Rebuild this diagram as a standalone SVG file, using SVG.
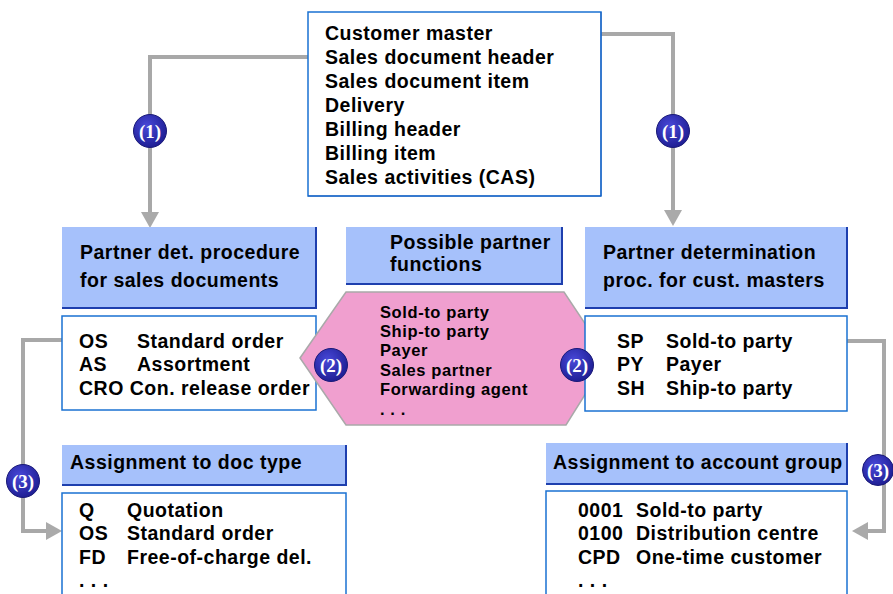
<svg xmlns="http://www.w3.org/2000/svg" width="893" height="594" viewBox="0 0 893 594">
<defs>
<style>
.t{font-family:"Liberation Sans",Arial,sans-serif;font-weight:bold;fill:#000}
.b18{font-size:19.5px;letter-spacing:0.5px}
.b15{font-size:16.5px;letter-spacing:0.6px}
.wbox{fill:#fff;stroke:#1a72d2;stroke-width:1.5}
.hbox{fill:#a6c1fb;stroke:none}
.edge{fill:none;stroke:#1e3fae;stroke-width:2}
.conn{fill:none;stroke:#a8a8a8;stroke-width:4}
.bt{font-family:"Liberation Serif","Times New Roman",serif;font-size:19px;font-weight:bold;fill:#fff;text-anchor:middle}
</style>
<radialGradient id="bg" cx="0.4" cy="0.35" r="0.7">
<stop offset="0" stop-color="#4848d8"/>
<stop offset="1" stop-color="#1c1c90"/>
</radialGradient>
</defs>

<g id="connectors">
<path class="conn" d="M320,57 H150 V214"/>
<polygon points="141,212 159,212 150,228" fill="#aaaaaa"/>
<path class="conn" d="M495,34 H673 V212"/>
<polygon points="664,210 682,210 673,226" fill="#aaaaaa"/>
<path class="conn" d="M72,340 H23 V531 H48"/>
<polygon points="46,522 46,540 62,531" fill="#aaaaaa"/>
<path class="conn" d="M847,341 H884 V531 H866"/>
<polygon points="868,522 868,540 852,531" fill="#aaaaaa"/>
</g>

<g id="customer-master">
<rect class="wbox" x="308" y="12" width="293" height="184"/>
<path d="M601,12 V196 H308" fill="none" stroke="#1a5fc0" stroke-width="1"/>
<text class="t b18" x="325" y="40">Customer master</text>
<text class="t b18" x="325" y="64">Sales document header</text>
<text class="t b18" x="325" y="88">Sales document item</text>
<text class="t b18" x="325" y="112">Delivery</text>
<text class="t b18" x="325" y="136">Billing header</text>
<text class="t b18" x="325" y="160">Billing item</text>
<text class="t b18" x="325" y="184">Sales activities (CAS)</text>
</g>

<g id="sales-proc-header">
<rect class="hbox" x="62" y="227" width="254" height="81"/>
<path class="edge" d="M316,227 V308 H62"/>
<text class="t b18" x="80" y="259">Partner det. procedure</text>
<text class="t b18" x="80" y="287">for sales documents</text>
</g>

<g id="sales-proc-list">
<rect class="wbox" x="62" y="316" width="254" height="94"/>
<text class="t b18" x="79" y="348">OS</text>
<text class="t b18" x="137" y="348">Standard order</text>
<text class="t b18" x="79" y="371">AS</text>
<text class="t b18" x="137" y="371">Assortment</text>
<text class="t b18" x="79" y="395">CRO Con. release order</text>
</g>

<g id="possible-header">
<rect class="hbox" x="346" y="227" width="216" height="57"/>
<path class="edge" d="M562,227 V284 H346"/>
<text class="t b18" x="390" y="249">Possible partner</text>
<text class="t b18" x="390" y="271">functions</text>
</g>

<g id="partner-functions">
<polygon points="300,358 346,292 564,292 608,358 566,425 346,425" fill="#f09fcf" stroke="#a9a9a9" stroke-width="1.5"/>
<text class="t b15" x="380" y="318">Sold-to party</text>
<text class="t b15" x="380" y="337">Ship-to party</text>
<text class="t b15" x="380" y="356">Payer</text>
<text class="t b15" x="380" y="376">Sales partner</text>
<text class="t b15" x="380" y="395">Forwarding agent</text>
<text class="t b15" x="380" y="415">. . .</text>
</g>

<g id="cust-proc-header">
<rect class="hbox" x="585" y="227" width="262" height="81"/>
<path class="edge" d="M847,227 V308 H585"/>
<text class="t b18" x="603" y="259">Partner determination</text>
<text class="t b18" x="603" y="287">proc. for cust. masters</text>
</g>

<g id="cust-proc-list">
<rect class="wbox" x="585" y="316" width="262" height="95"/>
<text class="t b18" x="617" y="348">SP</text>
<text class="t b18" x="666" y="348">Sold-to party</text>
<text class="t b18" x="617" y="371">PY</text>
<text class="t b18" x="666" y="371">Payer</text>
<text class="t b18" x="617" y="395">SH</text>
<text class="t b18" x="666" y="395">Ship-to party</text>
</g>

<g id="doc-type-header">
<rect class="hbox" x="62" y="445" width="284" height="40"/>
<path class="edge" d="M346,445 V485 H62"/>
<text class="t b18" x="70" y="469">Assignment to doc type</text>
</g>

<g id="doc-type-list">
<rect class="wbox" x="62" y="493" width="284" height="110"/>
<text class="t b18" x="79" y="517">Q</text>
<text class="t b18" x="127" y="517">Quotation</text>
<text class="t b18" x="79" y="540">OS</text>
<text class="t b18" x="127" y="540">Standard order</text>
<text class="t b18" x="79" y="564">FD</text>
<text class="t b18" x="127" y="564">Free-of-charge del.</text>
<text class="t b18" x="79" y="587">. . .</text>
</g>

<g id="acct-group-header">
<rect class="hbox" x="546" y="443" width="301" height="41"/>
<path class="edge" d="M847,443 V484 H546"/>
<text class="t b18" x="553" y="469">Assignment to account group</text>
</g>

<g id="acct-group-list">
<rect class="wbox" x="546" y="491" width="301" height="112"/>
<text class="t b18" x="578" y="517">0001</text>
<text class="t b18" x="636" y="517">Sold-to party</text>
<text class="t b18" x="578" y="540">0100</text>
<text class="t b18" x="636" y="540">Distribution centre</text>
<text class="t b18" x="578" y="564">CPD</text>
<text class="t b18" x="636" y="564">One-time customer</text>
<text class="t b18" x="578" y="587">. . .</text>
</g>

<g id="badges">
<circle cx="150" cy="131" r="16.5" fill="url(#bg)" stroke="#1a1a78" stroke-width="1"/>
<text class="bt" x="150" y="138">(1)</text>
<circle cx="673" cy="131" r="16.5" fill="url(#bg)" stroke="#1a1a78" stroke-width="1"/>
<text class="bt" x="673" y="138">(1)</text>
<circle cx="331" cy="365" r="16.5" fill="url(#bg)" stroke="#1a1a78" stroke-width="1"/>
<text class="bt" x="331" y="372">(2)</text>
<circle cx="577" cy="365" r="16.5" fill="url(#bg)" stroke="#1a1a78" stroke-width="1"/>
<text class="bt" x="577" y="372">(2)</text>
<circle cx="23" cy="481" r="16.5" fill="url(#bg)" stroke="#1a1a78" stroke-width="1"/>
<text class="bt" x="23" y="488">(3)</text>
<circle cx="878" cy="470" r="15.5" fill="url(#bg)" stroke="#1a1a78" stroke-width="1"/>
<text class="bt" x="878" y="477">(3)</text>
</g>
</svg>
